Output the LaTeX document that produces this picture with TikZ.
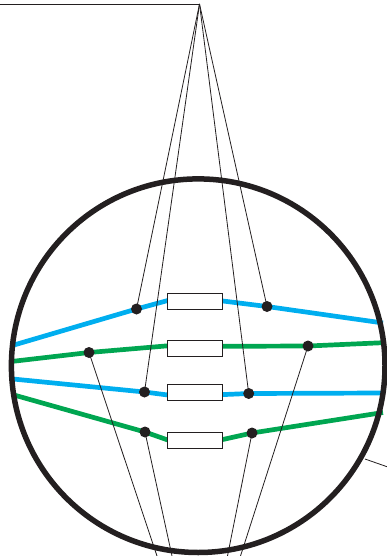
\documentclass[tikz,border=0pt]{standalone}
\usetikzlibrary{backgrounds}
\definecolor{rimblack}{HTML}{231F20}
\definecolor{fibreblue}{HTML}{00AEEF}
\definecolor{fibregreen}{HTML}{00A651}
\tikzset{
	lug/.style = {draw=rimblack, fill=white, line width=0.9pt, minimum width=55pt, minimum height=16pt, inner sep=0pt, outer sep=0pt},
	dot/.style = {circle, fill=rimblack, minimum size=11pt, inner sep=0pt, outer sep=0pt},
	blueline/.style = {draw=fibreblue, line width=4.7pt},
	greenline/.style = {draw=fibregreen, line width=4.7pt},
	thinline/.style = {draw=rimblack, line width=0.8pt}
}
\begin{document}
\begin{tikzpicture}[x=1pt,y=-1pt]
	\useasboundingbox (0,0) rectangle (387,556);
	% free ends
	\coordinate (apex) at (199.5,4);
	\coordinate (topleft) at (0,4);
	\coordinate (sideA) at (365,459);
	\coordinate (sideB) at (387,466.7);
	\coordinate (lowA) at (157,556);
	\coordinate (lowB) at (172,556);
	\coordinate (lowC) at (227.5,556);
	\coordinate (lowD) at (240.5,556);
	\coordinate (rimL1) at (14,345);
	\coordinate (rimL2) at (13,361.3);
	\coordinate (rimL3) at (13,379);
	\coordinate (rimL4) at (14,395);
	\coordinate (rimR1) at (383,323);
	\coordinate (rimR2) at (383,342.7);
	\coordinate (rimR3) at (383,393);
	\coordinate (rimR4) at (383,412.5);
	% lugs
	\node[lug] (lug1) at (195.3,301.5) {};
	\node[lug] (lug2) at (195.3,348.8) {};
	\node[lug] (lug3) at (195.3,392.8) {};
	\node[lug] (lug4) at (195.3,440) {};
	% dots
	\node[dot] (d1) at (136.5,309) {};
	\node[dot] (d2) at (267,306.5) {};
	\node[dot] (d3) at (89,352.5) {};
	\node[dot] (d4) at (308,346) {};
	\node[dot] (d5) at (144.5,392) {};
	\node[dot] (d6) at (248.7,393.5) {};
	\node[dot] (d7) at (145,432) {};
	\node[dot] (d8) at (252,433) {};
	\begin{pgfonlayer}{background}
	% fibres
	\draw[blueline] (rimL1) -- (d1.center) -- ([yshift=1pt]lug1.west);
	\draw[blueline] ([yshift=0.5pt]lug1.east) -- (d2.center) -- (rimR1);
	\draw[greenline] (rimL2) -- (d3.center) -- ([yshift=3pt]lug2.west);
	\draw[greenline] ([yshift=2.5pt]lug2.east) -- (d4.center) -- (rimR2);
	\draw[blueline] (rimL3) -- (d5.center) -- ([yshift=-2.2pt]lug3.west);
	\draw[blueline] ([yshift=-1.8pt]lug3.east) -- (d6.center) -- (rimR3);
	\draw[greenline] (rimL4) -- (d7.center) -- (lug4.west);
	\draw[greenline] ([yshift=0.5pt]lug4.east) -- (d8.center) -- (rimR4);
	% threads
	\draw[thinline] (topleft) -- (apex);
	\draw[thinline] (apex) -- (d1.center);
	\draw[thinline] (apex) -- (d2.center);
	\draw[thinline] (apex) -- (d5.center);
	\draw[thinline] (apex) -- (d6.center);
	\draw[thinline] (d3.center) -- (lowA);
	\draw[thinline] (d7.center) -- (lowB);
	\draw[thinline] (d8.center) -- (lowC);
	\draw[thinline] (d4.center) -- (lowD);
	\draw[thinline] (sideA) -- (sideB);
	\end{pgfonlayer}
	\draw[draw=rimblack, line width=5.5pt] (198.2,365.7) circle (186.8);
\end{tikzpicture}
\end{document}
